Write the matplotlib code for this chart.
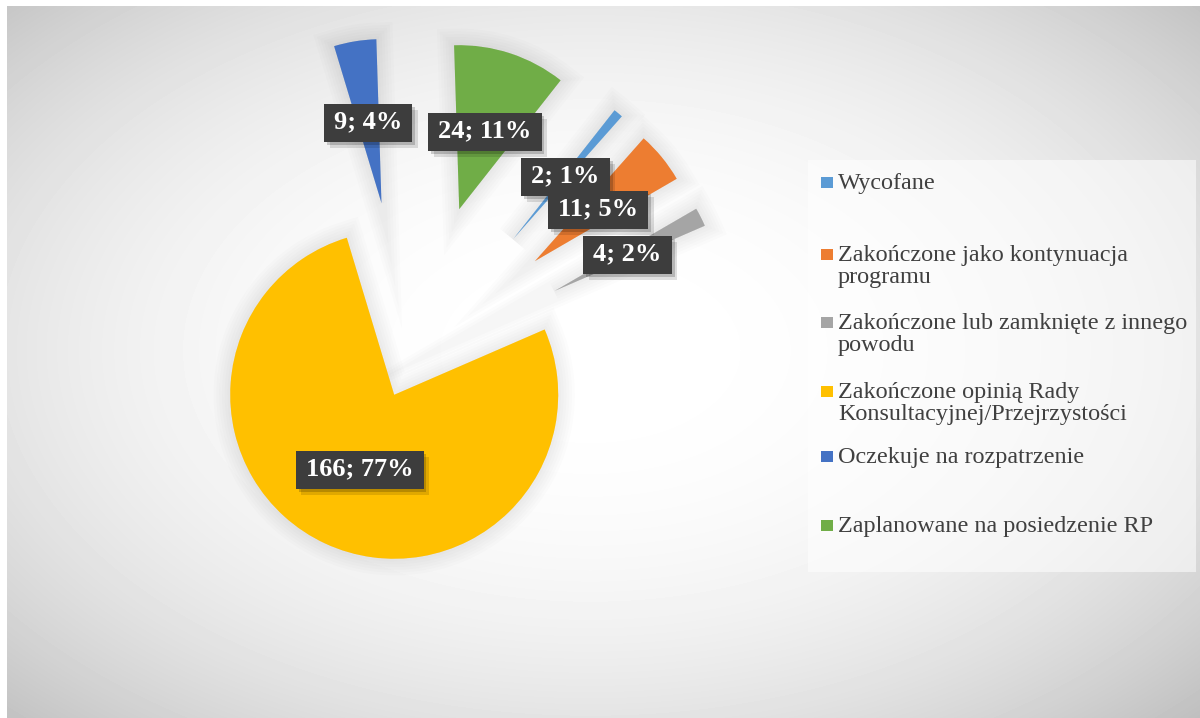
import numpy as np
import matplotlib
matplotlib.use("Agg")
import matplotlib.pyplot as plt
import matplotlib.patheffects as pe
from matplotlib.patches import Rectangle

plt.rcParams['font.family'] = ['Liberation Serif', 'DejaVu Serif']

# data
labels = ['Wycofane',
          'Zakończone jako kontynuacja\nprogramu',
          'Zakończone lub zamknięte z innego\npowodu',
          'Zakończone opinią Rady\nKonsultacyjnej/Przejrzystości',
          'Oczekuje na rozpatrzenie',
          'Zaplanowane na posiedzenie RP']
counts = [2, 11, 4, 166, 9, 24]
explode = [1.0, 1.0, 1.0, 0.2, 1.0, 1.0]
colors = ['#5B9BD5', '#ED7D31', '#A5A5A5', '#FFC000', '#4472C4', '#70AD47']

W, H = 1200, 718
total = sum(counts)

fig = plt.figure(figsize=(W / 100, H / 100), dpi=100)
fig.patch.set_facecolor('white')

# background with radial gradient (pixel coords)
bg = fig.add_axes([0, 0, 1, 1])
bg.set_xlim(0, W)
bg.set_ylim(H, 0)
bg.axis('off')
xx, yy = np.meshgrid(np.arange(7, W), np.arange(6, H))
d = (((xx - 590) / 600.0) ** 2 + ((yy - 350) / 370.0) ** 2) / 2.0
grad = np.clip(1.0 - 0.25 * d ** 1.2, 0, 1)
bg.imshow(grad, cmap='gray', vmin=0, vmax=1, extent=(7, W, H, 6),
          interpolation='bilinear', aspect='auto', zorder=0)

# legend box
bg.add_patch(Rectangle((808, 160), 388, 412, facecolor='white', alpha=0.55,
                       edgecolor='none', zorder=1))
for i, (lab, col) in enumerate(zip(labels, colors)):
    yb = 190 + i * 68.6 + (3 if '\n' in lab else 0)
    bg.add_patch(Rectangle((821, yb - 13), 12, 11, facecolor=col,
                           edgecolor='none', zorder=2))
    bg.text(838, yb - 17, lab, fontsize=17.4, color='#404040', va='top',
            ha='left', linespacing=1.08, zorder=3)

# pie, center at pixel (408, 365), radius 164 px
R, cx, cy = 164.0, 408.0, 365.0
ax = fig.add_axes([0, 0, 1, 1])
ax.patch.set_alpha(0)


def fmt(p):
    return '{:d}; {:.0f}%'.format(int(round(p * total / 100.0)), p)


wedges, texts, autotexts = ax.pie(
    counts, colors=colors, explode=explode, startangle=90 - 38.2,
    counterclock=False, autopct=fmt, pctdistance=0.5, radius=1,
    wedgeprops=dict(linewidth=0))

halo = [pe.Stroke(linewidth=lw, foreground='k', alpha=0.012)
        for lw in (24, 20, 16, 12, 8, 4)]
for w in wedges:
    w.set_path_effects(halo + [pe.Normal()])

ax.set_aspect('auto')
ax.set_xlim(-cx / R, (W - cx) / R)
ax.set_ylim((cy - H) / R, cy / R)
ax.axis('off')

for t in autotexts:
    t.set_fontsize(19)
    t.set_fontweight('bold')
    t.set_color('white')
    t.set_zorder(5)

# dark label boxes sized around the text
fig.canvas.draw()
renderer = fig.canvas.get_renderer()
inv = ax.transData.inverted()
for t in autotexts:
    bb = t.get_window_extent(renderer)
    xc, yc = (bb.x0 + bb.x1) / 2, (bb.y0 + bb.y1) / 2
    bw, bh = bb.width + 20, 38
    (x0, y0), (x1, y1) = inv.transform([(xc - bw / 2, yc - bh / 2 - 1),
                                        (xc + bw / 2, yc + bh / 2 - 1)])
    box = Rectangle((x0, y0), x1 - x0, y1 - y0, facecolor='#3d3d3d',
                    edgecolor='none', zorder=4)
    box.set_path_effects([
        pe.SimplePatchShadow(offset=(4, -4), shadow_rgbFace='k', alpha=0.12),
        pe.SimplePatchShadow(offset=(2, -2), shadow_rgbFace='k', alpha=0.18),
        pe.Normal()])
    ax.add_patch(box)

fig.savefig('out.png', dpi=100)
